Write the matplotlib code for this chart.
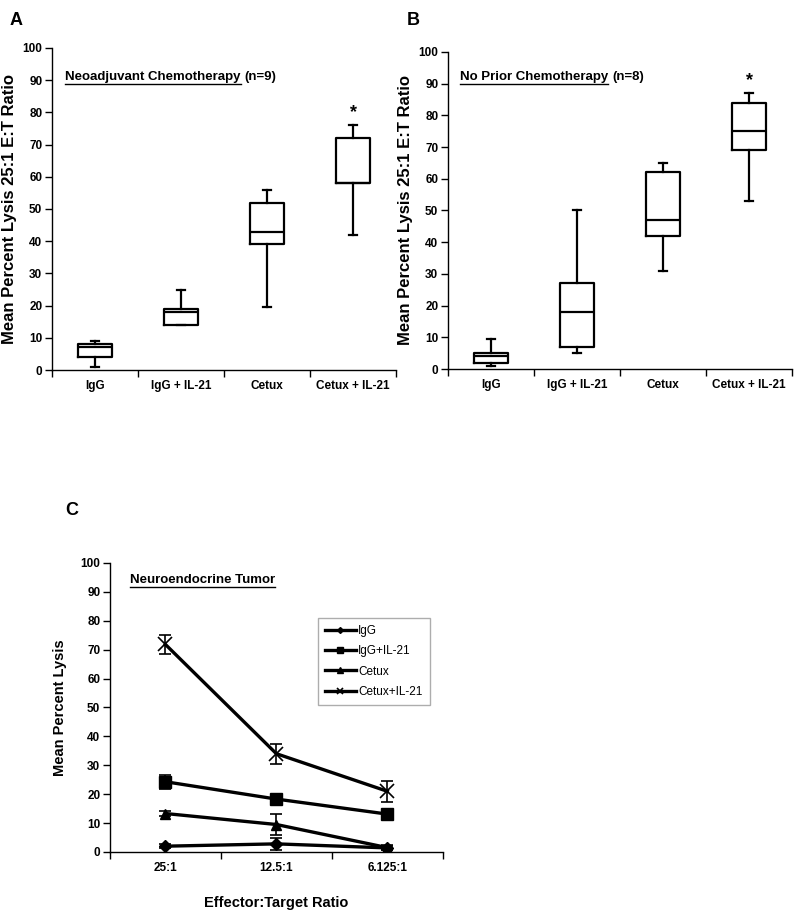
import numpy as np
import matplotlib
matplotlib.use('Agg')
import matplotlib.pyplot as plt
from matplotlib.lines import Line2D

plt.rcParams['font.family'] = ['Liberation Sans', 'DejaVu Sans']

GROUPS = ['IgG', 'IgG + IL-21', 'Cetux', 'Cetux + IL-21']

# Panel A: neoadjuvant chemotherapy (n=9)
neo_whislo = [1, 14, 19.5, 42]
neo_q1 = [4, 14, 39, 58]
neo_med = [7, 18, 43, 58]
neo_q3 = [8, 19, 52, 72]
neo_whishi = [9, 25, 56, 76]

# Panel B: no prior chemotherapy (n=8)
noc_whislo = [1, 5, 31, 53]
noc_q1 = [2, 7, 42, 69]
noc_med = [4, 18, 47, 75]
noc_q3 = [5, 27, 62, 84]
noc_whishi = [9.5, 50, 65, 87]

# significance stars (group index, y)
neo_star = (3, 80)
noc_star = (3, 91)

# Panel C: neuroendocrine tumor
RATIOS = ['25:1', '12.5:1', '6.125:1']
SERIES = ['IgG', 'IgG+IL-21', 'Cetux', 'Cetux+IL-21']
igg = [2.0, 2.8, 1.4]
igg_err = [0.6, 2.2, 0.8]
igg_il21 = [24.3, 18.3, 13.1]
igg_il21_err = [2.5, 1.0, 0.8]
cetux = [13.3, 9.5, 1.5]
cetux_err = [1.0, 3.7, 0.8]
cetux_il21 = [71.8, 34.0, 21.0]
cetux_il21_err = [3.3, 3.5, 3.7]

TICK_SIZE = 8.5

fig = plt.figure(figsize=(8, 9.15), dpi=100)


def style_axis(ax, ncat):
  for s in ['top', 'right']:
    ax.spines[s].set_visible(False)
  for s in ['left', 'bottom']:
    ax.spines[s].set_linewidth(1.0)
  ax.set_ylim(0, 100)
  ax.set_xlim(-0.5, ncat - 0.5)
  ax.set_yticks(np.arange(0, 101, 10))
  ax.tick_params(axis='y', direction='out', length=5, width=1, labelsize=TICK_SIZE, pad=2)
  ax.set_xticks(np.arange(ncat))
  ax.set_xticks(np.arange(-0.5, ncat, 1), minor=True)
  ax.tick_params(axis='x', which='major', length=0, labelsize=TICK_SIZE, pad=7)
  ax.tick_params(axis='x', which='minor', direction='out', length=5, width=1)
  for lbl in ax.get_yticklabels() + ax.get_xticklabels():
    lbl.set_fontweight('bold')


def underlined(ax, x, y, main, extra, size):
  t = ax.text(x, y, main, transform=ax.transAxes, fontsize=size,
              fontweight='bold', va='baseline', ha='left')
  fig.canvas.draw()
  bb = t.get_window_extent()
  inv = fig.transFigure.inverted()
  (x0, y0), (x1, _) = inv.transform([(bb.x0, bb.y0 - 1), (bb.x1, bb.y0 - 1)])
  fig.add_artist(Line2D([x0, x1], [y0, y0], color='black', lw=1.0))
  if extra:
    ax.annotate(extra, xy=(bb.x1, bb.y0), xycoords='figure pixels',
                xytext=(3, 0), textcoords='offset points', fontsize=size,
                fontweight='bold', va='bottom', ha='left')


def box_panel(rect, whislo, q1, med, q3, whishi, star, title, extra, tpos):
  ax = fig.add_axes(rect)
  stats = []
  for i in range(len(GROUPS)):
    stats.append({'whislo': whislo[i], 'q1': q1[i], 'med': med[i],
                  'q3': q3[i], 'whishi': whishi[i], 'label': GROUPS[i]})
  lw = 1.6
  ax.bxp(stats, positions=np.arange(len(GROUPS)), widths=0.4, capwidths=0.09,
         showfliers=False,
         boxprops=dict(color='black', linewidth=lw),
         medianprops=dict(color='black', linewidth=lw),
         whiskerprops=dict(color='black', linewidth=lw),
         capprops=dict(color='black', linewidth=lw))
  style_axis(ax, len(GROUPS))
  ax.set_xticklabels(GROUPS)
  for lbl in ax.get_xticklabels():
    lbl.set_fontweight('bold')
  ax.set_ylabel('Mean Percent Lysis 25:1 E:T Ratio', fontsize=12, fontweight='bold', labelpad=4)
  ax.text(star[0], star[1], '*', ha='center', va='center', fontsize=13, fontweight='bold')
  underlined(ax, tpos[0], tpos[1], title, extra, 9.5)
  return ax


axA = box_panel([0.065, 0.5956, 0.43, 0.352], neo_whislo, neo_q1, neo_med, neo_q3, neo_whishi,
                neo_star, 'Neoadjuvant Chemotherapy', '(n=9)', (0.038, 0.902))
axB = box_panel([0.56, 0.5967, 0.43, 0.3465], noc_whislo, noc_q1, noc_med, noc_q3, noc_whishi,
                noc_star, 'No Prior Chemotherapy', '(n=8)', (0.035, 0.912))

# Panel C
axC = fig.add_axes([0.1375, 0.0689, 0.416, 0.3158])
x = np.arange(len(RATIOS))
series_vals = [igg, igg_il21, cetux, cetux_il21]
series_err = [igg_err, igg_il21_err, cetux_err, cetux_il21_err]
markers = ['D', 's', '^', 'x']
msizes = [6, 8.5, 7.5, 10]
handles = []
for vals, errs, m, ms, name in zip(series_vals, series_err, markers, msizes, SERIES):
  axC.errorbar(x, vals, yerr=errs, fmt='none', ecolor='black', elinewidth=1.2,
               capsize=4, capthick=1.2, zorder=2)
  ln, = axC.plot(x, vals, color='black', linewidth=2.4, marker=m, markersize=ms,
                 markeredgewidth=1.2 if m == 'x' else 1.0, markerfacecolor='black',
                 markeredgecolor='black', label=name, zorder=3)
  handles.append(ln)
style_axis(axC, len(RATIOS))
axC.set_xticklabels(RATIOS)
for lbl in axC.get_xticklabels():
  lbl.set_fontweight('bold')
axC.set_ylabel('Mean Percent Lysis', fontsize=10.5, fontweight='bold', labelpad=10)
axC.set_xlabel('Effector:Target Ratio', fontsize=10.5, fontweight='bold', labelpad=16)
leg = axC.legend(handles=handles, loc='upper left', bbox_to_anchor=(0.625, 0.81),
                 fontsize=8.5, frameon=True, fancybox=False, markerscale=0.5,
                 handlelength=2.6, handletextpad=0.2, labelspacing=0.7,
                 borderpad=0.6, borderaxespad=0)
leg.get_frame().set_edgecolor('#999999')
leg.get_frame().set_linewidth(1.0)
underlined(axC, 0.06, 0.93, 'Neuroendocrine Tumor', '', 9.5)

# panel letters
fig.text(0.012, 0.978, 'A', fontsize=13, fontweight='bold', va='center')
fig.text(0.508, 0.978, 'B', fontsize=13, fontweight='bold', va='center')
fig.text(0.081, 0.442, 'C', fontsize=13, fontweight='bold', va='center')

fig.savefig('out.png', dpi=100)
